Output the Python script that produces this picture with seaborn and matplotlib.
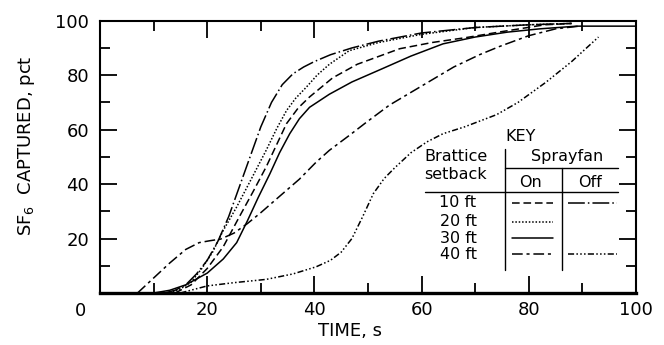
import matplotlib
matplotlib.use('Agg')
import matplotlib.pyplot as plt
import seaborn as sns
from matplotlib.ticker import MultipleLocator

# curves: time (s) vs SF6 captured (pct)
t_10ft_off = [12, 14, 16, 18, 20, 22, 24, 26, 28, 30, 32, 34, 36, 38, 40, 43, 47, 52, 60, 70, 80, 88]
y_10ft_off = [0, 1, 3, 7, 12, 19, 28, 39, 50, 61, 70, 76.5, 80.5, 83, 85, 87.5, 90, 92.5, 95.5, 97.5, 98.5, 99]

t_20ft_on = [13, 15, 17, 19, 21, 23, 25.5, 28, 31, 33, 34.8, 36.5, 38.5, 40.5, 42.8, 46.5, 52, 60, 70, 80, 88]
y_20ft_on = [0, 1.5, 4, 9, 15, 23, 31.6, 41, 52.4, 60.5, 67, 71.5, 75.6, 80, 84, 89, 92, 95, 97.5, 98.5, 99]

t_10ft_on = [14, 17, 20, 23, 26, 28.5, 31, 34.8, 37, 39.1, 43.4, 48, 55.9, 62, 68.3, 75, 83, 88]
y_10ft_on = [0, 3, 9, 17, 28, 37, 46.3, 62.2, 68, 72, 79, 84, 89.7, 92, 93.8, 96, 98.5, 99]

t_30ft_on = [10, 13, 16, 20, 23, 25.5, 27.5, 29.5, 31.7, 33.5, 35.4, 37.2, 39.1, 42.8,
             47, 52.7, 58, 64, 70, 76, 82, 89, 95, 100]
y_30ft_on = [0, 1, 3, 7.3, 12.5, 18.5, 26.5, 35, 43.8, 51.5, 58.5, 64, 68.2, 73,
             77.5, 82.4, 87, 91.5, 94, 95.8, 97, 98, 98, 98]

t_40ft_on = [7, 10, 13, 16, 18.5, 20.5, 22.5, 25, 27.5, 30, 33.5, 37.2, 40.3, 42.8,
             46.6, 49.7, 54, 60, 66, 70.8, 74.5, 80, 85, 89.4]
y_40ft_on = [0, 5.5, 11, 16, 18.5, 19.2, 19.8, 22, 25.5, 29.5, 35.5, 41.8, 48, 52.4,
             58, 62.7, 69, 76, 83, 87.5, 90.5, 94.5, 97, 98]

t_40ft_off = [15, 20, 25, 31, 36, 40.3, 43, 45, 47, 49, 51, 53, 55, 58, 61,
              64, 68, 74, 78, 83.2, 88, 93]
y_40ft_off = [0, 2.6, 3.8, 5, 7, 9.6, 12, 15, 20, 28, 36.5, 42, 46, 51.5, 55.5,
              58.5, 61, 65.5, 70, 77.4, 85, 94]

setbacks = ['10 ft', '20 ft', '30 ft', '40 ft']

# line styles, one per curve
LS_10_ON = (0, (5, 2.5))
LS_20_ON = (0, (1, 1.2))
LS_30_ON = '-'
LS_40_ON = (0, (7, 2.5, 2, 2.5))
LS_10_OFF = (0, (11, 2, 1, 2))
LS_40_OFF = (0, (4, 1.5, 1, 1.5, 1, 1.5, 1, 1.5))

sns.set_style('ticks')
plt.rcParams['font.family'] = ['DejaVu Sans']
plt.rcParams['mathtext.default'] = 'regular'
for key in ['text.color', 'axes.labelcolor', 'xtick.color', 'ytick.color', 'axes.edgecolor']:
    plt.rcParams[key] = 'black'

fig = plt.figure(figsize=(6.64, 3.45), dpi=100)
ax = fig.add_axes([0.1506, 0.1507, 0.8072, 0.7893])

curves = [
    (t_10ft_off, y_10ft_off, LS_10_OFF),
    (t_20ft_on,  y_20ft_on,  LS_20_ON),
    (t_10ft_on,  y_10ft_on,  LS_10_ON),
    (t_30ft_on,  y_30ft_on,  LS_30_ON),
    (t_40ft_on,  y_40ft_on,  LS_40_ON),
    (t_40ft_off, y_40ft_off, LS_40_OFF),
]
for t, y, ls in curves:
    sns.lineplot(x=t, y=y, ax=ax, color='black', linewidth=1.1,
                 linestyle=ls, sort=False, estimator=None)

ax.set_xlim(0, 100)
ax.set_ylim(0, 100)
ax.xaxis.set_minor_locator(MultipleLocator(10))
ax.yaxis.set_minor_locator(MultipleLocator(10))
ax.set_xticks([0, 20, 40, 60, 80, 100])
ax.set_xticklabels(['', '20', '40', '60', '80', '100'])
ax.set_yticks([20, 40, 60, 80, 100])
ax.tick_params(which='both', direction='in', top=True, right=True,
               width=1.3, color='black', labelsize=13)
ax.tick_params(which='major', length=12)
ax.tick_params(which='minor', length=7.5)
ax.tick_params(axis='x', pad=6)
ax.tick_params(axis='y', pad=8)
for side in ['left', 'top', 'right']:
    ax.spines[side].set_linewidth(1.5)
ax.spines['bottom'].set_linewidth(2.4)

# origin label sits below-left of the corner
ax.text(-3.6, -3.2, '0', fontsize=13, ha='center', va='top', clip_on=False)

ax.set_xlabel('TIME, s', fontsize=13)
ax.xaxis.set_label_coords(0.466, -0.105)
ax.set_ylabel('SF$_6$  CAPTURED, pct', fontsize=13)
ax.yaxis.set_label_coords(-0.118, 0.54)

# key table
kfs = 11.5
ax.text(75.6, 57.3, 'KEY', fontsize=kfs, ha='left', va='center')
ax.text(66.4, 50.2, 'Brattice', fontsize=kfs, ha='center', va='center')
ax.text(66.4, 43.6, 'setback', fontsize=kfs, ha='center', va='center')
ax.text(87.1, 50.2, 'Sprayfan', fontsize=kfs, ha='center', va='center')
ax.text(80.4, 40.6, 'On', fontsize=kfs, ha='center', va='center')
ax.text(91.4, 40.6, 'Off', fontsize=kfs, ha='center', va='center')
ax.plot([75.6, 75.6], [53, 8.4], color='black', lw=1.0)
ax.plot([75.6, 96.6], [45.9, 45.9], color='black', lw=1.0)
ax.plot([86.2, 86.2], [45.9, 8.4], color='black', lw=1.0)
ax.plot([60.6, 96.6], [37.2, 37.2], color='black', lw=1.0)

row_y = [33.2, 26.2, 20.1, 14.3]
on_styles = [LS_10_ON, LS_20_ON, LS_30_ON, LS_40_ON]
off_styles = [LS_10_OFF, None, None, LS_40_OFF]
for lab, ry, ls_on, ls_off in zip(setbacks, row_y, on_styles, off_styles):
    ax.text(66.8, ry, lab, fontsize=kfs, ha='center', va='center')
    ax.plot([76.8, 84.6], [ry, ry], color='black', lw=1.1, linestyle=ls_on)
    if ls_off is not None:
        ax.plot([87.4, 96.4], [ry, ry], color='black', lw=1.1, linestyle=ls_off)

fig.savefig('out.png', dpi=100)
